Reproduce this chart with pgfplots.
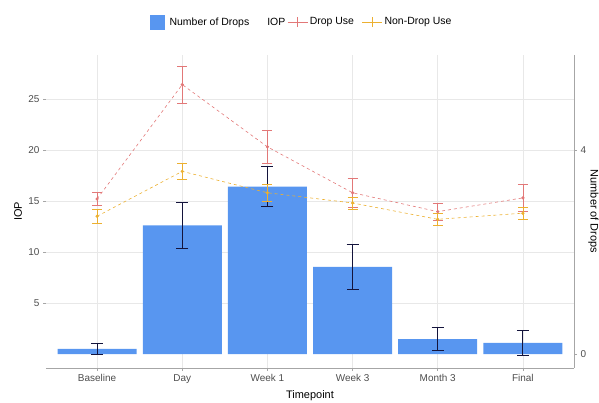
\documentclass[border=0pt]{standalone}
\usepackage{fontspec}
\setmainfont{Liberation Sans}
\usepackage{pgfplots}
\pgfplotsset{compat=1.18}
\usepackage{pgfplotstable}
\definecolor{barblue}{RGB}{88,150,240}
\definecolor{barerr}{RGB}{20,20,60}
\definecolor{dropred}{RGB}{226,120,120}
\definecolor{nondrop}{RGB}{236,176,48}
\definecolor{gridc}{RGB}{232,232,232}
\definecolor{tickc}{RGB}{77,77,77}
\pgfplotstableread{
x drops err
0 0.10 0.11
1 2.52 0.45
2 3.28 0.39
3 1.71 0.44
4 0.29 0.23
5 0.22 0.25
}\dropstab
\pgfplotstableread{
x iop err
0 15.2 0.6
1 26.4 1.8
2 20.3 1.6
3 15.8 1.4
4 13.95 0.8
5 15.3 1.3
}\dropuse
\pgfplotstableread{
x iop err
0 13.5 0.7
1 17.9 0.8
2 15.8 0.8
3 14.8 0.6
4 13.2 0.6
5 13.8 0.6
}\nondropuse
\begin{document}
\begin{tikzpicture}
\useasboundingbox (0,0) rectangle (599bp,403bp);
\begin{axis}[
  at={(46bp,35bp)}, anchor=south west,
  scale only axis, width=528bp, height=313bp,
  xmin=-0.6, xmax=5.6, ymin=-1.37, ymax=29.3,
  axis x line*=bottom, axis y line*=left,
  x axis line style={draw=gray!70, line width=0.6pt, -},
  y axis line style={draw=none, -},
  xtick={0,1,2,3,4,5},
  xticklabels={Baseline,Day,Week 1,Week 3,Month 3,Final},
  ytick={5,10,15,20,25},
  /pgf/number format/assume math mode=true,
  tick align=outside, major tick length=3bp,
  tick style={draw=gray!70, line width=0.5pt},
  ticklabel style={font=\fontsize{10}{11}\selectfont, text=tickc},
  xmajorgrids, ymajorgrids,
  grid style={draw=gridc, line width=0.6pt},
  xlabel={Timepoint}, ylabel={IOP},
  label style={font=\fontsize{11}{12}\selectfont},
  xlabel style={at={(axis description cs:0.5,-0.089)}, anchor=center},
  ylabel style={at={(axis description cs:-0.053,0.5)}, anchor=center},
  legend style={draw=none, fill=none, at={(0.484,1.105)}, anchor=center,
    font=\fontsize{10.5}{12}\selectfont, /tikz/every even column/.append style={column sep=0bp},
    /tikz/every odd column/.append style={column sep=0bp}},
  legend columns=-1,
]
\addplot[ybar, bar width=79bp, fill=barblue, draw=none,
  legend image code/.code={\fill[barblue] (0bp,-7.5bp) rectangle (15bp,7.5bp);},
  error bars/.cd, y dir=both, y explicit,
  error bar style={draw=barerr, line width=1pt},
  error mark options={rotate=90, mark size=6bp, line width=1pt, draw=barerr}]
  table[x=x, y expr=\thisrow{drops}*5, y error expr=\thisrow{err}*5]{\dropstab};
\addlegendentry{\hspace*{3bp}Number of Drops\hspace*{14bp}}
\addlegendimage{empty legend}
\addlegendentry{IOP}
\addplot[dropred, dashed, line width=0.6pt, mark=*, mark size=1.3bp, mark options={solid},
  legend image code/.code={\draw[solid] (0bp,0bp) -- (20bp,0bp); \draw[solid] (10bp,-5bp) -- (10bp,5bp);},
  error bars/.cd, y dir=both, y explicit,
  error bar style={solid, line width=0.6pt},
  error mark options={rotate=90, mark size=5bp, solid, line width=0.6pt}]
  table[x=x, y=iop, y error=err]{\dropuse};
\addlegendentry{Drop Use\hspace*{6bp}}
\addplot[nondrop, dashed, line width=0.6pt, mark=*, mark size=1.3bp, mark options={solid},
  legend image code/.code={\draw[solid] (0bp,0bp) -- (20bp,0bp); \draw[solid] (10bp,-5bp) -- (10bp,5bp);},
  error bars/.cd, y dir=both, y explicit,
  error bar style={solid, line width=0.6pt},
  error mark options={rotate=90, mark size=5bp, solid, line width=0.6pt}]
  table[x=x, y=iop, y error=err]{\nondropuse};
\addlegendentry{Non-Drop Use}
\end{axis}
\begin{axis}[
  at={(46bp,35bp)}, anchor=south west,
  scale only axis, width=528bp, height=313bp,
  xmin=-0.6, xmax=5.6, ymin=-0.274, ymax=5.86,
  axis x line=none, axis y line*=right,
  y axis line style={draw=gray!70, line width=0.6pt, -},
  ytick={0,4},
  /pgf/number format/assume math mode=true,
  tick align=outside, major tick length=3bp,
  tick style={draw=gray!70, line width=0.5pt},
  ticklabel style={font=\fontsize{10}{11}\selectfont, text=tickc},
  ylabel={Number of Drops},
  label style={font=\fontsize{11}{12}\selectfont},
  ylabel style={at={(axis description cs:1.037,0.5)}, anchor=center, rotate=180},
]
\addplot[draw=none, forget plot] coordinates {(0,0)};
\end{axis}
\end{tikzpicture}
\end{document}
